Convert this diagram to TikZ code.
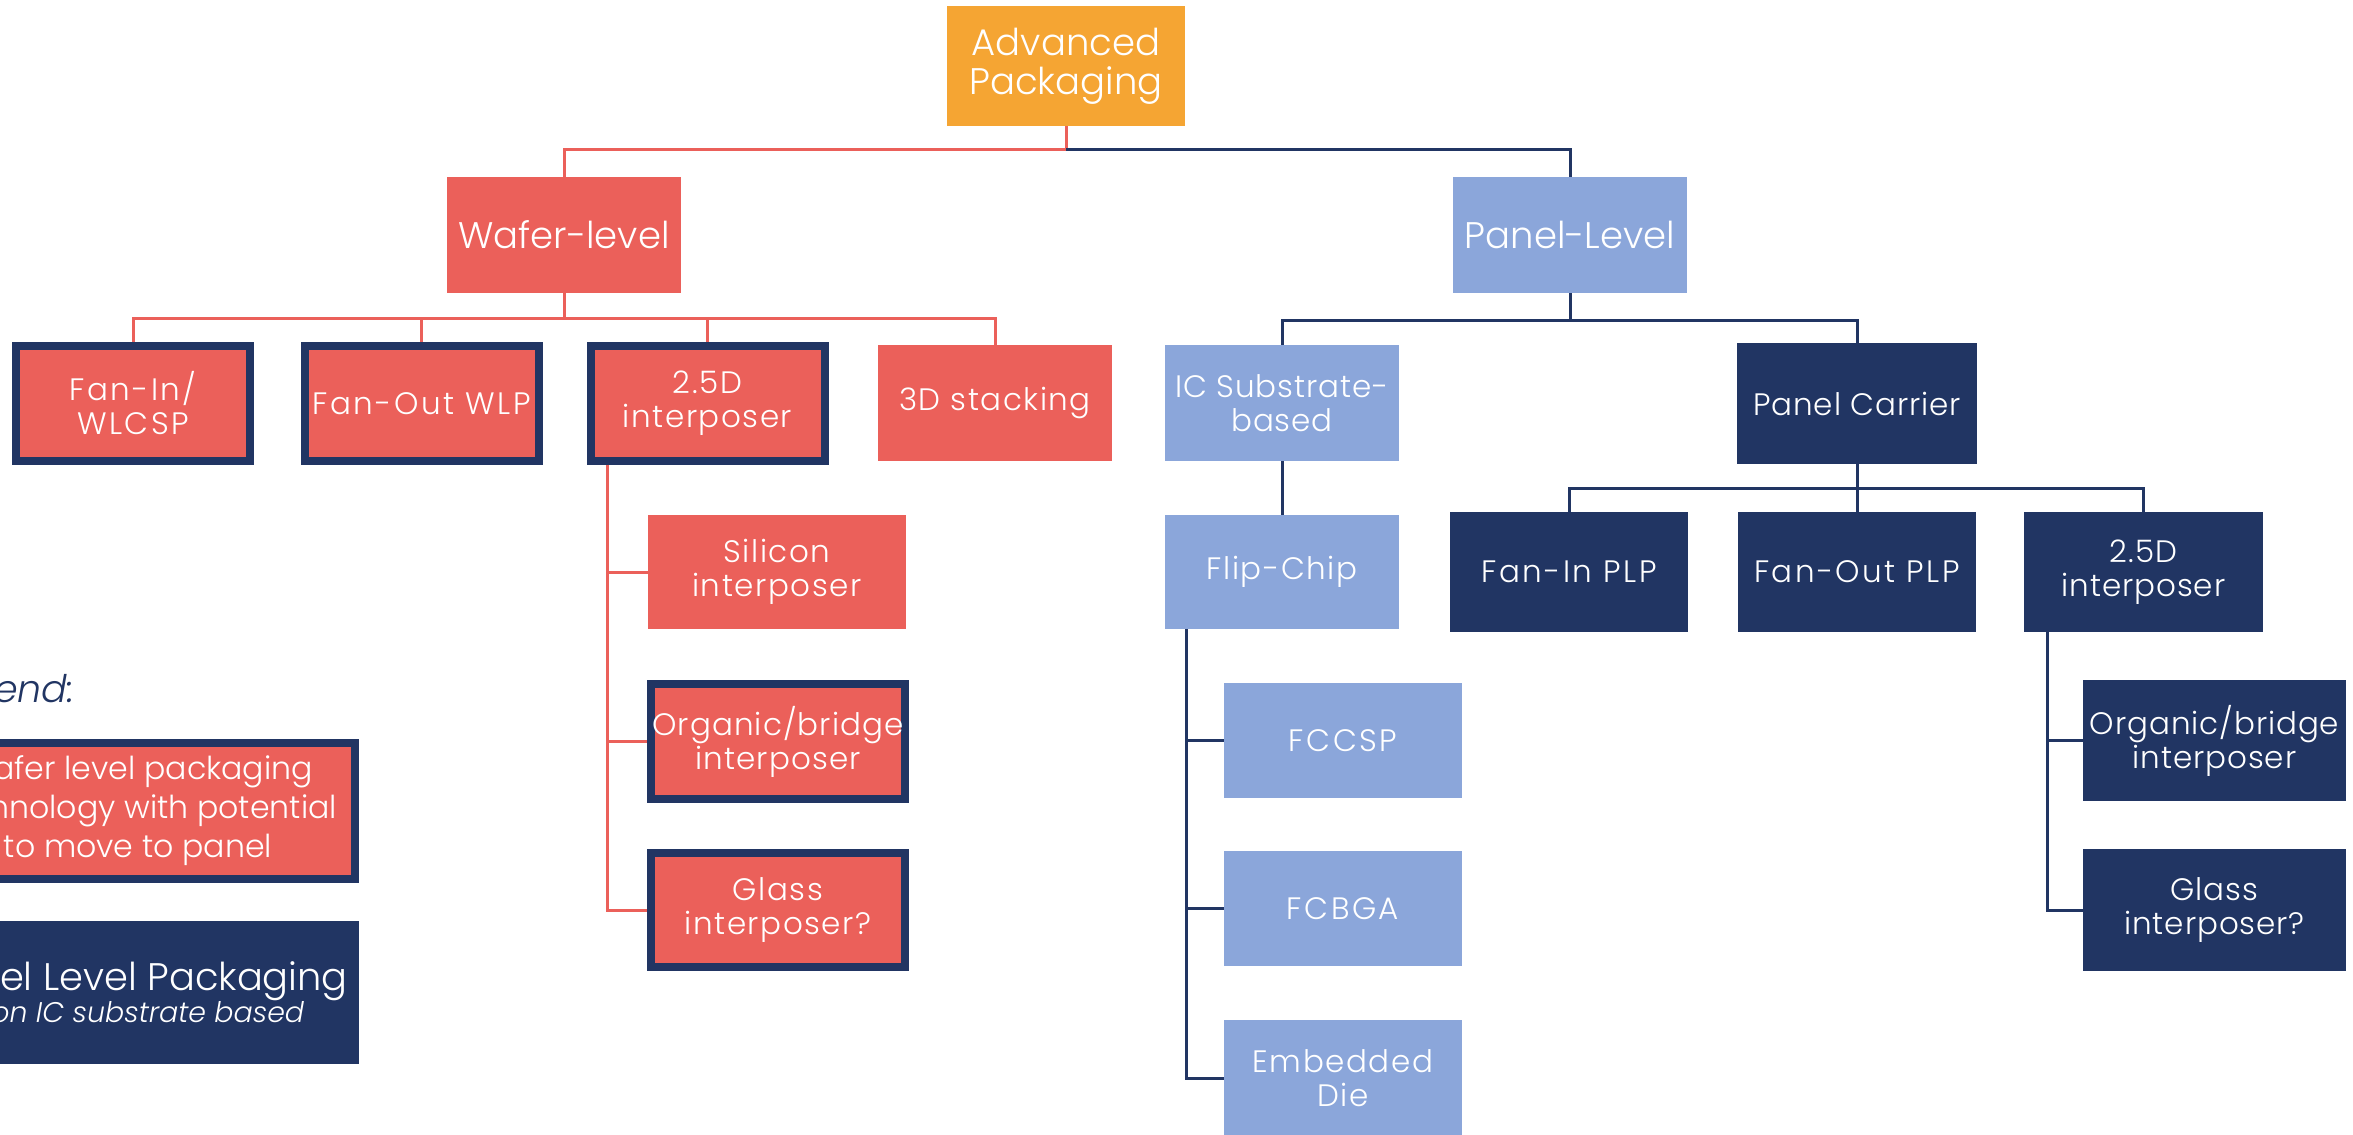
\documentclass[tikz,border=0pt]{standalone}
\usepackage{fontspec}
\setmainfont{Poppins}[UprightFont=* Light, ItalicFont=* Light Italic]
\usetikzlibrary{backgrounds}
\definecolor{apor}{HTML}{F5A533}
\definecolor{wred}{HTML}{EB605A}
\definecolor{navy}{HTML}{213563}
\definecolor{lblue}{HTML}{8BA6DA}
\begin{document}
\begin{tikzpicture}[x=0.5pt,y=-0.5pt,
 box/.style={rectangle, inner sep=0pt, text=white, align=center, minimum width=117pt, minimum height=58pt, font=\fontsize{15.5}{17}\selectfont\addfontfeature{LetterSpace=3}},
 sp/.style={font=\fontsize{15.5}{17}\selectfont\addfontfeature{LetterSpace=5}},
 spn/.style={font=\fontsize{15.5}{17}\selectfont\addfontfeature{LetterSpace=3.5}},
 wide/.style={font=\fontsize{15.5}{17}\selectfont\addfontfeature{LetterSpace=8}},
 big/.style={font=\fontsize{18.5}{19.5}\selectfont},
 rbox/.style={box, fill=wred},
 bbox/.style={box, fill=lblue},
 nbox/.style={box, fill=navy},
 bord/.style={draw=navy, line width=4pt},
 rline/.style={draw=wred, line width=1.5pt},
 nline/.style={draw=navy, line width=1.5pt}]
\useasboundingbox (0,0) rectangle (2353,1134);
\clip (0,0) rectangle (2353,1134);
% level 0/1
\node[box, big, fill=apor, minimum width=119pt, minimum height=60pt] (ap) at (1066,66) {Advanced\\Packaging};
\node[rbox, big] (wl) at (564,235) {Wafer-level};
\node[bbox, big] (pl) at (1570,235) {Panel-Level};
% level 2
\node[rbox, bord, wide, minimum height=57.5pt] (fi) at (133,403.5) {Fan-In/\\WLCSP};
\node[rbox, bord, wide, minimum height=57.5pt] (fo) at (421.5,403.5) {Fan-Out WLP};
\node[rbox, bord, sp, minimum height=57.5pt] (i25) at (707.5,403.5) {2.5D\\interposer};
\node[rbox, sp] (s3d) at (995,403) {3D stacking};
\node[bbox] (ics) at (1282,403) {IC Substrate-\\based};
\node[nbox, minimum width=120pt, minimum height=60.5pt] (pc) at (1857,403.5) {Panel Carrier};
% level 3
\node[rbox, sp, minimum width=129pt, minimum height=57pt] (si) at (777,572) {Silicon\\interposer};
\node[bbox, sp, minimum height=57pt] (fc) at (1282,572) {Flip-Chip};
\node[nbox, wide, minimum width=119pt, minimum height=60pt] (fip) at (1569,572) {Fan-In PLP};
\node[nbox, wide, minimum width=119pt, minimum height=60pt] (fop) at (1857,572) {Fan-Out PLP};
\node[nbox, minimum width=119.5pt, minimum height=60pt] (pi25) at (2143.5,572) {2.5D\\interposer};
% level 4
\node[rbox, bord, spn, minimum width=127pt, minimum height=57.5pt] (ob) at (778,741.5) {Organic/bridge\\interposer};
\node[bbox, wide, minimum width=119pt, minimum height=57.5pt] (fccsp) at (1343,740.5) {FCCSP};
\node[nbox, minimum width=131.5pt, minimum height=60.5pt] (pob) at (2214.5,740.5) {Organic/bridge\\interposer};
% level 5
\node[rbox, bord, sp, minimum width=127pt, minimum height=57pt] (gi) at (778,910) {Glass\\interposer?};
\node[bbox, wide, minimum width=119pt, minimum height=57.5pt] (fcbga) at (1343,908.5) {FCBGA};
\node[nbox, minimum width=131.5pt, minimum height=61pt] (pgi) at (2214.5,910) {Glass\\interposer?};
% level 6
\node[bbox, sp, minimum width=119pt, minimum height=58pt] (emb) at (1343,1078) {Embedded\\Die};
% legend
\node[anchor=base east, inner sep=0pt, text=navy, font=\fontsize{19}{19}\selectfont\itshape] (leg) at (75,702) {Legend:};
\node[rbox, bord, minimum width=217pt, minimum height=68pt, font=\fontsize{15.8}{19.5}\selectfont] (lw) at (138,811) {Wafer level packaging\\technology with potential\\to move to panel};
\node[nbox, minimum width=221pt, minimum height=71.5pt, font=\fontsize{19.2}{18}\selectfont] (lp) at (138,992.5) {Panel Level Packaging\\[-2pt]{\fontsize{14.2}{14}\selectfont\itshape Non IC substrate based}};
% connectors
\begin{scope}[on background layer]
\fill[white] (0,0) rectangle (2353,1134);
\coordinate (j1) at (0,150);
\draw[rline] (ap.south) -- (ap.south|-j1) -| (wl.north);
\draw[nline] (ap.south|-j1) -| (pl.north);
\coordinate (j2) at (0,318);
\foreach \n in {fi,fo,i25,s3d} \draw[rline] (wl.south) -- (wl.south|-j2) -| (\n.north);
\coordinate (j3) at (0,320);
\foreach \n in {ics,pc} \draw[nline] (pl.south) -- (pl.south|-j3) -| (\n.north);
\draw[nline] (ics.south) -- (fc.north);
\coordinate (j4) at (0,488);
\foreach \n in {fip,fop,pi25} \draw[nline] (pc.south) -- (pc.south|-j4) -| (\n.north);
\foreach \n in {si,ob,gi} \draw[rline] ([xshift=10.5pt]i25.south west) |- (\n.west);
\foreach \n in {fccsp,fcbga,emb} \draw[nline] ([xshift=11pt]fc.south west) |- (\n.west);
\foreach \n in {pob,pgi} \draw[nline] ([xshift=12pt]pi25.south west) |- (\n.west);
\end{scope}
\end{tikzpicture}
\end{document}
